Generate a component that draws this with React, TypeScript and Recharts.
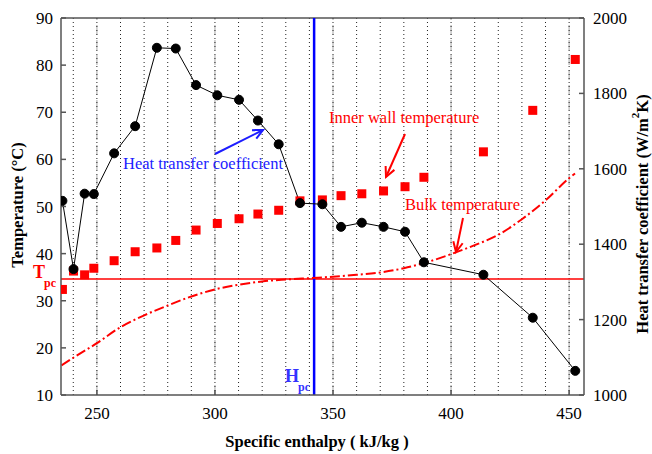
import React from 'react';
import { ComposedChart, Line, Scatter, XAxis, YAxis, ReferenceLine } from 'recharts';

// enthalpy of each measuring section (kJ/kg)
const enthalpy = [235.4, 240.1, 244.8, 248.7, 257.3, 266.2, 275.4, 283.4, 292.0, 301.0, 310.2, 318.2,
  327.0, 336.0, 345.5, 353.4, 362.2, 371.4, 380.5, 388.5, 413.7, 434.6, 452.6];
// heat transfer coefficient (W/m2K), right axis
const htc = [1515, 1334, 1534, 1533, 1641, 1713, 1921, 1919, 1822, 1795, 1783, 1728,
  1665, 1509, 1506, 1446, 1457, 1446, 1433, 1352, 1319, 1205, 1064];
// inner wall temperature (C), left axis
const wallTemp = [32.4, 36.3, 35.5, 36.9, 38.5, 40.4, 41.2, 42.8, 45.0, 46.4, 47.4, 48.4,
  49.2, 51.2, 51.4, 52.3, 52.7, 53.3, 54.2, 56.2, 61.6, 70.4, 81.2];

// bulk temperature curve
const bulkEnthalpy = [235, 240, 250, 260, 270, 280, 290, 300, 310, 320, 330, 340, 350, 360,
  370, 380, 390, 400, 410, 420, 430, 440, 450, 452.5];
const bulkTemp = [16.3, 17.9, 21.0, 24.4, 26.9, 29.0, 30.9, 32.4, 33.4, 34.1, 34.5, 34.8, 35.1, 35.5,
  36.0, 36.9, 38.2, 39.9, 41.8, 44.0, 47.3, 51.3, 56.0, 57.0];

const T_PC = 34.6;
const H_PC = 342;

const xTicks = [250, 300, 350, 400, 450];
const xMinorGrid = [240, 250, 260, 270, 280, 290, 300, 310, 320, 330, 340, 350, 360, 370, 380, 390, 400, 410, 420, 430, 440, 450];
const tempTicks = [10, 20, 30, 40, 50, 60, 70, 80, 90];
const htcTicks = [1000, 1200, 1400, 1600, 1800, 2000];

const data = enthalpy.map((x, i) => ({ x, htc: htc[i], wall: wallTemp[i] }));
const bulkData = bulkEnthalpy.map((x, i) => ({ x, t: bulkTemp[i] }));

const FONT = 'Liberation Serif, Times New Roman, serif';
const AXIS = '#555';

const Square = (props: any) => {
  const { cx, cy } = props;
  if (cx == null || cy == null) return null;
  return <rect x={cx - 4.5} y={cy - 4.5} width={9} height={9} fill="#ff0000" />;
};

function Arrow({ x1, y1, x2, y2, color }: { x1: number; y1: number; x2: number; y2: number; color: string }) {
  const a = Math.atan2(y2 - y1, x2 - x1);
  const len = 11;
  const spread = 0.45;
  const p1 = [x2 - len * Math.cos(a - spread), y2 - len * Math.sin(a - spread)];
  const p2 = [x2 - len * Math.cos(a + spread), y2 - len * Math.sin(a + spread)];
  return (
    <g stroke={color} strokeWidth={2} fill="none">
      <line x1={x1} y1={y1} x2={x2} y2={y2} />
      <polyline points={`${p1[0]},${p1[1]} ${x2},${y2} ${p2[0]},${p2[1]}`} />
    </g>
  );
}

export default function App() {
  const tick = { fontSize: 17, fill: '#000', fontFamily: FONT };
  return (
    <div style={{ position: 'absolute', left: 0, top: 0, width: 652, height: 454, background: '#fff', fontFamily: FONT }}>
      <ComposedChart width={652} height={454} data={data} margin={{ top: 18, right: 0, left: 0, bottom: 0 }}>
        <XAxis
          dataKey="x"
          type="number"
          domain={[234.8, 456.3]}
          ticks={xTicks}
          allowDataOverflow
          height={59}
          tick={tick}
          tickSize={-5}
          tickMargin={17}
          stroke={AXIS}
          strokeWidth={1.5}
        />
        <YAxis
          yAxisId="left"
          domain={[10, 90]}
          ticks={tempTicks}
          width={61}
          tick={tick}
          tickSize={-5}
          tickMargin={13}
          stroke={AXIS}
          strokeWidth={1.5}
        />
        <YAxis
          yAxisId="right"
          orientation="right"
          domain={[1000, 2000]}
          ticks={htcTicks}
          width={68}
          tick={tick}
          tickSize={-5}
          tickMargin={14}
          stroke={AXIS}
          strokeWidth={1.5}
        />
        {xTicks.map((v) => (
          <ReferenceLine key={'M' + v} x={v} yAxisId="left" stroke="#c4c4c4" strokeWidth={1.5} strokeDasharray="10 5" />
        ))}
        {xMinorGrid.map((v) => (
          <ReferenceLine key={'m' + v} x={v} yAxisId="left" stroke="#222" strokeWidth={1} strokeDasharray="1 3" />
        ))}
        <ReferenceLine y={90} yAxisId="left" stroke={AXIS} strokeWidth={1.5} />
        <ReferenceLine y={T_PC} yAxisId="left" stroke="#ff0000" strokeWidth={1.5} />
        <ReferenceLine x={H_PC} yAxisId="left" stroke="#0000ff" strokeWidth={2.5} />
        <Line
          yAxisId="left"
          data={bulkData}
          dataKey="t"
          type="monotone"
          stroke="#ff0000"
          strokeWidth={2}
          strokeDasharray="10 3 2 3"
          dot={false}
          isAnimationActive={false}
        />
        <Scatter yAxisId="left" dataKey="wall" shape={<Square />} isAnimationActive={false} />
        <Line
          yAxisId="right"
          dataKey="htc"
          type="linear"
          stroke="#000"
          strokeWidth={1}
          dot={{ r: 4.5, fill: '#000', stroke: '#000', strokeWidth: 1 }}
          isAnimationActive={false}
        />
      </ComposedChart>
      <svg width={652} height={454} style={{ position: 'absolute', left: 0, top: 0, pointerEvents: 'none', fontFamily: FONT }}>
        <text x={17} y={205} transform="rotate(-90 17 205)" textAnchor="middle" dominantBaseline="central" fontSize={16.5} fontWeight="bold">
          Temperature (°C)
        </text>
        <text x={642} y={214} transform="rotate(-90 642 214)" textAnchor="middle" dominantBaseline="central" fontSize={16.5} fontWeight="bold">
          Heat transfer coefficient (W/m<tspan dy={-7} fontSize={11}>2</tspan><tspan dy={7}>K)</tspan>
        </text>
        <text x={317} y={447} textAnchor="middle" fontSize={16.5} fontWeight="bold">
          Specific enthalpy ( kJ/kg )
        </text>
        <text x={33} y={278} fontSize={18} fontWeight="bold" fill="#ff0000">T</text>
        <text x={44} y={287} fontSize={12} fontWeight="bold" fill="#ff0000">pc</text>
        <text x={285} y={382} fontSize={18} fontWeight="bold" fill="#3333ff">H</text>
        <text x={298} y={391} fontSize={12} fontWeight="bold" fill="#3333ff">pc</text>
        <text x={123} y={169} fontSize={16.5} fill="#1c1cff">Heat transfer coefficient</text>
        <Arrow x1={215} y1={154} x2={263} y2={130} color="#1c1cff" />
        <text x={329} y={123} fontSize={16.5} fill="#ff0000">Inner wall temperature</text>
        <Arrow x1={405} y1={134} x2={386} y2={177} color="#ff0000" />
        <text x={405} y={210} fontSize={16.5} fill="#ff0000">Bulk temperature</text>
        <Arrow x1={463} y1={218} x2={456} y2={252} color="#ff0000" />
      </svg>
    </div>
  );
}
